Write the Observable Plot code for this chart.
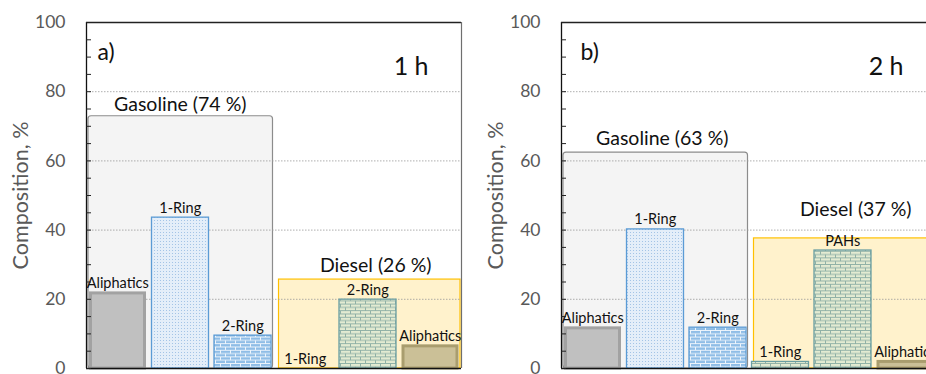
<!DOCTYPE html>
<html><head><meta charset="utf-8">
<script src="https://cdn.jsdelivr.net/npm/d3@7"></script>
<script src="https://cdn.jsdelivr.net/npm/@observablehq/plot@0.6"></script>
<style>
body{margin:0;background:#fff;}
#wrap{width:926px;height:374px;overflow:hidden;display:flex;position:relative;background:#fff;}
#wrap svg{flex:none;}
</style></head><body>
<svg width="0" height="0" style="position:absolute">
<defs>
<pattern id="dotsBlue" width="3" height="3" patternUnits="userSpaceOnUse">
  <rect width="3" height="3" fill="#e4eef9"/>
  <rect x="1" y="1" width="1" height="1" fill="#a4c4e6"/>
</pattern>
<pattern id="brickBlue" width="10" height="6.6" patternUnits="userSpaceOnUse">
  <rect width="10" height="6.6" fill="#8fbde6"/>
  <path d="M0,0.5H10M0,3.8H10M0.5,0.5V3.8M5.5,3.8V6.6" stroke="#eef5fc" stroke-width="1"/>
</pattern>
<pattern id="brickGreen" width="10" height="6.6" patternUnits="userSpaceOnUse">
  <rect width="10" height="6.6" fill="#e3ebd2"/>
  <path d="M0,0.5H10M0,3.8H10M0.5,0.5V3.8M5.5,3.8V6.6" stroke="#8fb0a6" stroke-width="1"/>
</pattern>
</defs></svg>
<div id="wrap"></div>
<script>
// ---- data ----
const slotGroups = ["Gasoline","Gasoline","Gasoline","Diesel","Diesel","Diesel"];
const classes1h = ["Aliphatics","1-Ring","2-Ring","1-Ring","2-Ring","Aliphatics"];
const classes2h = ["Aliphatics","1-Ring","2-Ring","1-Ring","PAHs","Aliphatics"];
const comp1h = [21.7, 43.6, 9.5, 0, 19.9, 6.4];
const comp2h = [11.6, 40.2, 11.8, 1.9, 34.1, 1.9];
const fractions = ["Gasoline","Diesel"];
const share1h = [74, 26];
const share2h = [63, 37];
const boxTop1h = [72.9, 25.7];
const boxTop2h = [62.4, 37.6];
const panelTags = ["a)","b)"];
const durations = ["1 h","2 h"];
const yTicks = [0,20,40,60,80,100];
const yMinorTicks = d3.range(0, 101, 5);
const gridValues = [20,40,60,80];
const yDomain = [0, 100];
const yTitle = "Composition, %";

// ---- styles ----
const barFill = {
  "Gasoline|Aliphatics": "#c0c0c0", "Gasoline|1-Ring": "url(#dotsBlue)", "Gasoline|2-Ring": "url(#brickBlue)",
  "Diesel|1-Ring": "url(#brickGreen)", "Diesel|2-Ring": "url(#brickGreen)", "Diesel|PAHs": "url(#brickGreen)",
  "Diesel|Aliphatics": "#cbc097"
};
const barStroke = {
  "Gasoline|Aliphatics": "#a2a2a2", "Gasoline|1-Ring": "#5b9bd5", "Gasoline|2-Ring": "#5b9bd5",
  "Diesel|1-Ring": "#6a9ea2", "Diesel|2-Ring": "#6a9ea2", "Diesel|PAHs": "#6a9ea2",
  "Diesel|Aliphatics": "#a99d6e"
};
const boxStyle = {
  Gasoline: {fill: "#f4f4f4", stroke: "#8c8c8c", insetLeft: 2, insetRight: 1, rx: 3},
  Diesel: {fill: "#fff2cc", stroke: "#ffc000", insetLeft: 5, insetRight: 1, rx: 0}
};

function makePanel(cfg) {
  const bars = cfg.classes.map((cls, i) => ({group: slotGroups[i], cls, value: cfg.comp[i], i, key: slotGroups[i] + "|" + cls}));
  const boxes = fractions.map((f, j) => ({group: f, share: cfg.share[j], top: cfg.boxTop[j],
    start: slotGroups.indexOf(f), end: slotGroups.lastIndexOf(f) + 1}));
  const solid = d => d.value > 0 && d.cls === "Aliphatics";
  const patterned = d => d.value > 0 && d.cls !== "Aliphatics";
  const boxMarks = boxes.map((b, j) => Plot.rect([b], {
    x1: "start", x2: "end", y1: 0, y2: "top",
    fill: boxStyle[b.group].fill, stroke: boxStyle[b.group].stroke, strokeWidth: 1.2,
    insetLeft: boxStyle[b.group].insetLeft, insetRight: boxStyle[b.group].insetRight, rx: boxStyle[b.group].rx
  }));
  const boxLabels = boxes.map((b, j) => Plot.text([b], {
    x: d => (d.start + d.end) / 2, y: "top", text: d => `${d.group} (${d.share} %)`,
    lineAnchor: "bottom", dx: cfg.groupDx[j], dy: cfg.groupDy[j], fontSize: 19.5, fill: "#111"
  }));
  return Plot.plot({
    width: cfg.width, height: 374,
    marginLeft: cfg.marginLeft, marginRight: cfg.marginRight, marginTop: 22, marginBottom: 6,
    x: {domain: [0, slotGroups.length], axis: null},
    y: {domain: yDomain, axis: null},
    color: {type: "identity"},
    style: {fontFamily: "Lato, 'Open Sans', sans-serif", background: "transparent", overflow: "visible"},
    marks: [
      ...boxMarks,
      Plot.ruleY(gridValues, {stroke: "#9a9a9a", strokeDasharray: "1.5,1.5", strokeWidth: 0.8}),
      Plot.rect(bars.filter(patterned), {x1: "i", x2: d => d.i + 1, y1: 0, y2: "value",
        fill: d => barFill[d.key], stroke: d => barStroke[d.key], strokeWidth: 1.3, insetLeft: 3, insetRight: 2.5}),
      Plot.rect(bars.filter(solid), {x1: "i", x2: d => d.i + 1, y1: 0, y2: "value",
        fill: d => barFill[d.key], stroke: d => barStroke[d.key], strokeWidth: 3, insetLeft: 4.5, insetRight: 4}),
      Plot.text(bars, {x: d => d.i + 0.5, y: "value", text: "cls", lineAnchor: "bottom", dy: -5, fontSize: 14.5, fill: "#111"}),
      ...boxLabels,
      Plot.ruleY([yDomain[1]], {stroke: "#222", strokeWidth: 1.3}),
      Plot.ruleX([slotGroups.length], {stroke: "#6f6f6f", strokeWidth: 1.2}),
      Plot.ruleX([0], {stroke: "#111", strokeWidth: 1.3}),
      Plot.ruleY([yDomain[0]], {stroke: "#111", strokeWidth: 1.3}),
      Plot.axisY(yMinorTicks, {tickSize: 5, dx: 5, tickFormat: () => "", label: null, color: "#222"}),
      Plot.axisY(yTicks, {tickSize: 0, tickPadding: 21, fontSize: 17.5, label: null, color: "#595959"}),
      Plot.text([yTitle], {frameAnchor: "left", dx: -65, rotate: -90, textAnchor: "middle", fontSize: 21.5, fill: "#595959"}),
      Plot.text([cfg.tag], {frameAnchor: "top-left", dx: cfg.tagDx, dy: 21, fontSize: 23, textAnchor: "start", fill: "#111"}),
      Plot.text([cfg.duration], {frameAnchor: "top-right", dx: -33, dy: 35, fontSize: 25, textAnchor: "end", fill: "#111"})
    ]
  });
}

const wrap = document.getElementById("wrap");
wrap.append(makePanel({classes: classes1h, comp: comp1h, share: share1h, boxTop: boxTop1h,
  tag: panelTags[0], duration: durations[0], width: 470, marginLeft: 86, marginRight: 9,
  tagDx: 11, groupDx: [0, 8], groupDy: [-5, -8]}));
wrap.append(makePanel({classes: classes2h, comp: comp2h, share: share2h, boxTop: boxTop2h,
  tag: panelTags[1], duration: durations[1], width: 466, marginLeft: 91, marginRight: 0,
  tagDx: 19, groupDx: [7, 13], groupDy: [-8, -22]}));
</script>
</body></html>
